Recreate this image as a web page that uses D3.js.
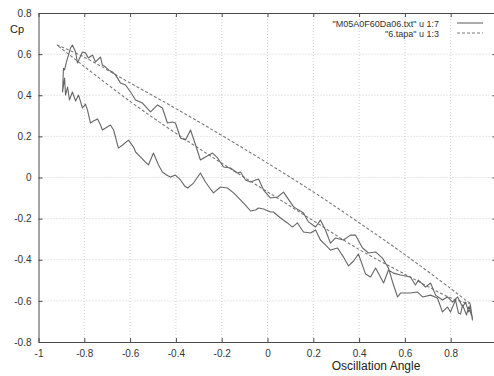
<!DOCTYPE html>
<html>
<head>
<meta charset="utf-8">
<script src="https://cdn.jsdelivr.net/npm/d3@7/dist/d3.min.js"></script>
<style>
  html, body { margin: 0; padding: 0; background: #fff; }
  svg { display: block; }
  text { font-family: "Liberation Sans", Arial, sans-serif; }
</style>
</head>
<body>
<svg id="chart" width="494" height="376"></svg>
<script>
// ---- data ----
const xTicks = [-1, -0.8, -0.6, -0.4, -0.2, 0, 0.2, 0.4, 0.6, 0.8];
const xTickLabels = ["-1", "-0.8", "-0.6", "-0.4", "-0.2", "0", "0.2", "0.4", "0.6", "0.8"];
const yTicks = [0.8, 0.6, 0.4, 0.2, 0, -0.2, -0.4, -0.6, -0.8];
const yTickLabels = ["0.8", "0.6", "0.4", "0.2", "0", "-0.2", "-0.4", "-0.6", "-0.8"];
const seriesNames = ["\"M05A0F60Da06.txt\" u 1:7", "\"6.tapa\" u 1:3"];
const xTitle = "Oscillation Angle";
const yTitle = "Cp";

// measured Cp loop (series 1), in order of the recorded cycle
const expAngle = [
  -0.891,-0.895,-0.886,-0.882,-0.873,-0.865,-0.852,-0.838,-0.825,-0.808,-0.795,-0.786,-0.773,-0.760,-0.742,-0.729,-0.721,-0.707,-0.686,-0.672,
  -0.651,-0.633,-0.607,-0.585,-0.576,-0.555,-0.533,-0.520,-0.498,-0.476,-0.459,-0.441,-0.424,-0.402,-0.380,-0.362,-0.349,-0.323,-0.293,-0.271,
  -0.249,-0.236,-0.205,-0.175,-0.148,-0.118,-0.096,-0.074,-0.052,-0.039,-0.017,0.013,0.026,0.057,0.087,0.109,0.131,0.157,0.188,0.210,
  0.231,0.253,0.275,0.306,0.332,0.354,0.376,0.397,0.428,0.450,0.472,0.507,0.528,
  0.550,0.581,0.624,0.646,0.659,0.690,0.712,0.734,0.764,0.786,0.808,0.830,0.852,0.865,0.878,0.886,
  0.895,0.886,0.895,0.878,0.869,0.852,0.843,
  0.834,0.821,0.799,0.786,0.764,0.742,0.712,0.677,0.655,0.624,0.581,0.568,0.546,0.528,
  0.502,0.472,0.441,0.415,0.384,0.362,0.332,0.297,0.275,0.253,0.231,0.210,0.179,0.157,0.114,0.070,0.044,0.013,-0.017,-0.039,
  -0.052,-0.074,-0.096,-0.118,-0.131,-0.162,-0.192,-0.218,-0.240,-0.271,-0.293,-0.314,-0.336,-0.358,-0.380,-0.402,-0.415,-0.437,-0.459,-0.480,
  -0.511,-0.546,-0.576,-0.598,-0.620,-0.642,-0.664,-0.677,-0.694,-0.707,-0.721,-0.729,-0.751,-0.764,-0.782,-0.795,-0.808,-0.830,-0.838,-0.852,
  -0.860,-0.869,-0.878,-0.886,-0.891
];
const expCp = [
  0.533,0.416,0.484,0.401,0.440,0.377,0.416,0.372,0.401,0.338,0.357,0.328,0.265,0.275,0.285,0.255,0.231,0.241,0.255,0.231,
  0.143,0.158,0.182,0.148,0.124,0.100,0.075,0.061,0.119,0.061,0.027,0.012,0.002,0.012,-0.012,-0.041,-0.051,-0.027,0.022,-0.022,
  -0.056,-0.075,-0.046,-0.051,-0.075,-0.109,-0.134,-0.163,-0.158,-0.148,-0.153,-0.168,-0.168,-0.197,-0.221,-0.241,-0.221,-0.265,-0.270,-0.255,
  -0.304,-0.328,-0.353,-0.343,-0.387,-0.430,-0.406,-0.372,-0.469,-0.484,-0.440,-0.513,-0.450,
  -0.465,-0.474,-0.484,-0.523,-0.499,-0.533,-0.513,-0.572,-0.596,-0.581,-0.606,-0.581,-0.630,-0.606,-0.654,-0.620,
  -0.693,-0.635,-0.683,-0.630,-0.669,-0.620,-0.664,
  -0.659,-0.596,-0.654,-0.630,-0.654,-0.586,-0.572,-0.581,-0.557,-0.562,-0.562,-0.581,-0.508,-0.440,
  -0.392,-0.362,-0.367,-0.343,-0.280,-0.280,-0.304,-0.294,-0.319,-0.255,-0.207,-0.241,-0.216,-0.173,-0.143,-0.071,-0.095,-0.100,-0.061,-0.007,
  -0.012,-0.022,-0.012,0.027,0.022,0.046,0.051,0.095,0.119,0.100,0.085,0.158,0.231,0.182,0.192,0.265,0.270,0.265,0.338,0.353,
  0.319,0.362,0.377,0.416,0.450,0.460,0.499,0.513,0.523,0.537,0.547,0.586,0.562,0.596,0.581,0.606,0.610,0.557,0.610,0.644,
  0.630,0.596,0.562,0.523,0.533
];

// reference loop (series 2)
const tapaAngle = [-0.92,-0.8,-0.6,-0.4,-0.2,0,0.2,0.4,0.6,0.8,0.87,0.89,0.8,0.6,0.4,0.2,0,-0.2,-0.4,-0.6,-0.8,-0.92];
const tapaCp    = [0.645,0.585,0.46,0.335,0.205,0.07,-0.07,-0.22,-0.375,-0.54,-0.6,-0.615,-0.585,-0.47,-0.35,-0.21,-0.07,0.07,0.215,0.37,0.54,0.645];

// ---- chart ----
const svg = d3.select("#chart");
const x = d3.scaleLinear().domain([-1, 1]).range([38.5, 496.5]);
const y = d3.scaleLinear().domain([-0.8, 0.8]).range([342, 13]);
const frameColor = "#4a4a4a";

// grid
const grid = svg.append("g");
grid.selectAll("line.gx").data(xTicks.filter(d => d > -1)).join("line")
  .attr("x1", d => x(d)).attr("x2", d => x(d))
  .attr("y1", y(0.8)).attr("y2", y(-0.8))
  .attr("stroke", "#c4c4c4").attr("stroke-width", 0.8).attr("stroke-dasharray", "1,2");
grid.selectAll("line.gy").data(yTicks.filter(d => d > -0.8 && d < 0.8)).join("line")
  .attr("x1", x(-1)).attr("x2", x(1))
  .attr("y1", d => y(d)).attr("y2", d => y(d))
  .attr("stroke", "#c4c4c4").attr("stroke-width", 0.8).attr("stroke-dasharray", "1,2");

function styleAxis(g) {
  g.select(".domain").attr("stroke", frameColor).attr("stroke-width", 1);
  g.selectAll(".tick line").attr("stroke", frameColor).attr("stroke-width", 1);
  g.selectAll(".tick text").attr("fill", "#333").style("font-size", "10px")
    .style("font-family", "'Liberation Sans', Arial, sans-serif");
}

svg.append("g").attr("transform", `translate(0,${y(-0.8)})`)
  .call(d3.axisBottom(x).tickValues(xTicks).tickFormat((d, i) => xTickLabels[i])
    .tickSizeInner(-4).tickSizeOuter(0).tickPadding(8))
  .call(styleAxis);
svg.append("g").attr("transform", `translate(0,${y(0.8)})`)
  .call(d3.axisTop(x).tickValues(xTicks).tickFormat("").tickSizeInner(-4).tickSizeOuter(0))
  .call(styleAxis);
svg.append("g").attr("transform", `translate(${x(-1)},0)`)
  .call(d3.axisLeft(y).tickValues(yTicks).tickFormat((d, i) => yTickLabels[i])
    .tickSizeInner(-4).tickSizeOuter(0).tickPadding(7))
  .call(styleAxis);
svg.append("g").attr("transform", `translate(${x(1)},0)`)
  .call(d3.axisRight(y).tickValues(yTicks).tickFormat("").tickSizeInner(-4).tickSizeOuter(0))
  .call(styleAxis);

// series
const expData = expAngle.map((a, i) => [a, expCp[i]]);
const tapaData = tapaAngle.map((a, i) => [a, tapaCp[i]]);

svg.append("path").datum(tapaData)
  .attr("fill", "none").attr("stroke", "#7a7a7a").attr("stroke-width", 1.1)
  .attr("stroke-dasharray", "3,2")
  .attr("d", d3.line().x(d => x(d[0])).y(d => y(d[1])).curve(d3.curveCatmullRom));

svg.append("path").datum(expData)
  .attr("fill", "none").attr("stroke", "#666").attr("stroke-width", 1.1)
  .attr("stroke-linejoin", "round")
  .attr("d", d3.line().x(d => x(d[0])).y(d => y(d[1])));

// titles
svg.append("text").attr("x", 10).attr("y", 33).attr("fill", "#222")
  .style("font-size", "11px").text(yTitle);
svg.append("text").attr("x", 376).attr("y", 370).attr("text-anchor", "middle").attr("fill", "#222")
  .style("font-size", "12px").text(xTitle);

// legend
const legend = svg.append("g");
const legY = [23, 33];
legend.selectAll("text").data(seriesNames).join("text")
  .attr("x", 439).attr("y", (d, i) => legY[i] + 3.5).attr("text-anchor", "end")
  .attr("fill", "#333").style("font-size", "9px").text(d => d);
legend.append("line").attr("x1", 457).attr("x2", 483).attr("y1", legY[0]).attr("y2", legY[0])
  .attr("stroke", "#666").attr("stroke-width", 1.1);
legend.append("line").attr("x1", 457).attr("x2", 483).attr("y1", legY[1]).attr("y2", legY[1])
  .attr("stroke", "#7a7a7a").attr("stroke-width", 1.1).attr("stroke-dasharray", "3,2");
</script>
</body>
</html>
